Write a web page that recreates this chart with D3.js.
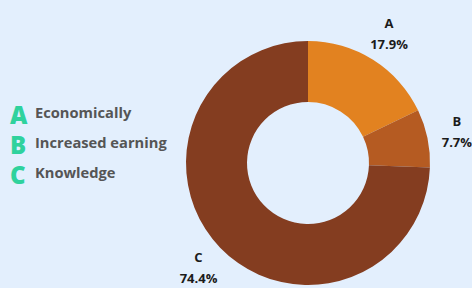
<!DOCTYPE html>
<html>
<head>
<meta charset="utf-8">
<script src="https://cdn.jsdelivr.net/npm/d3@7"></script>
<style>
  body { margin: 0; background: #e3effd; }
  svg { display: block; }
</style>
</head>
<body>
<svg width="472" height="288"></svg>
<script>
var svg = d3.select("svg");
var width = 472, height = 288;

// data
var categories = ["A", "B", "C"];
var names = ["Economically", "Increased earning", "Knowledge"];
var values = [17.9, 7.7, 74.4];
var colors = ["#e28220", "#b55b22", "#843d20"];

var cx = 308, cy = 163;
var outerR = 122, innerR = 61, labelR = 152;

svg.append("rect").attr("width", width).attr("height", height).attr("fill", "#e3effd");

var slices = categories.map(function(c, i) {
  return { cat: c, value: values[i], color: colors[i] };
});

var pie = d3.pie().sort(null).value(function(d) { return d.value; });
var arc = d3.arc().innerRadius(innerR).outerRadius(outerR);
var labelArc = d3.arc().innerRadius(labelR).outerRadius(labelR);

var g = svg.append("g").attr("transform", "translate(" + cx + "," + cy + ")");

g.selectAll("path")
  .data(pie(slices))
  .enter().append("path")
  .attr("d", arc)
  .attr("fill", function(d) { return d.data.color; });

var lab = g.selectAll("g.lab")
  .data(pie(slices))
  .enter().append("g")
  .attr("class", "lab")
  .attr("transform", function(d) { return "translate(" + labelArc.centroid(d) + ")"; });

lab.append("text")
  .attr("y", -6)
  .attr("text-anchor", "middle")
  .style("font-family", "'Open Sans', sans-serif")
  .style("font-weight", 700)
  .style("font-size", "13px")
  .attr("fill", "#1b1b1b")
  .text(function(d) { return d.data.cat; });

lab.append("text")
  .attr("y", 15)
  .attr("text-anchor", "middle")
  .style("font-family", "'Open Sans', sans-serif")
  .style("font-weight", 700)
  .style("font-size", "13px")
  .attr("fill", "#1b1b1b")
  .text(function(d) { return d.data.value.toFixed(1) + "%"; });

// legend
var legend = svg.append("g").attr("transform", "translate(10,0)");
var row = legend.selectAll("g")
  .data(categories)
  .enter().append("g")
  .attr("transform", function(d, i) { return "translate(0," + (124 + i * 30) + ")"; });

row.append("text")
  .style("font-family", "'Open Sans', sans-serif")
  .style("font-weight", 800)
  .style("font-size", "24px")
  .attr("fill", "#2fd29d")
  .text(function(d) { return d; });

row.append("text")
  .attr("x", 25)
  .attr("y", -6)
  .style("font-family", "'Open Sans', sans-serif")
  .style("font-weight", 700)
  .style("font-size", "14.7px")
  .attr("fill", "#555555")
  .text(function(d, i) { return names[i]; });
</script>
</body>
</html>
